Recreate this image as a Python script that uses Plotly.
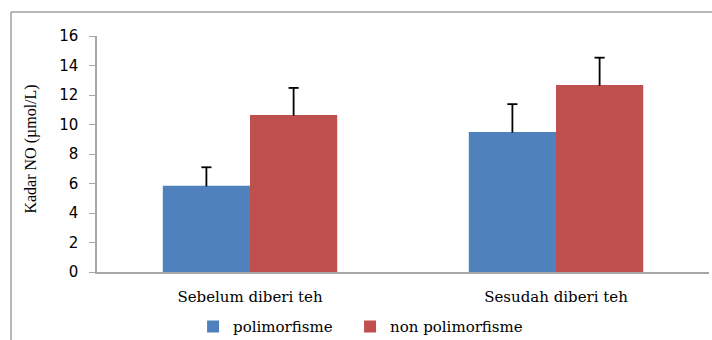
import plotly.graph_objects as go

categories = ["Sebelum diberi teh", "Sesudah diberi teh"]
polimorfisme = [5.85, 9.5]
polimorfisme_err = [1.25, 1.88]
non_polimorfisme = [10.65, 12.68]
non_polimorfisme_err = [1.83, 1.85]
y_ticks = [0, 2, 4, 6, 8, 10, 12, 14, 16]
y_title = "Kadar NO (µmol/L)"

xi = list(range(len(categories)))
BARGAP = 0.43
half = (1 - BARGAP) / 4  # centre offset of each bar in a group
cap = 0.0165             # half-width of error cap (x units)

fig = go.Figure()
fig.add_trace(go.Bar(
    name="polimorfisme", x=xi, y=polimorfisme, legend="legend",
    marker=dict(color="#4F81BD", line=dict(width=0)), hoverinfo="y",
))
fig.add_trace(go.Bar(
    name="non polimorfisme", x=xi, y=non_polimorfisme, legend="legend2",
    marker=dict(color="#C0504D", line=dict(width=0)), hoverinfo="y",
))

# error bars (upper only, cap at top) drawn as lines
ex, ey = [], []
for vals, errs, off in [(polimorfisme, polimorfisme_err, -half),
                        (non_polimorfisme, non_polimorfisme_err, half)]:
    for i, (v, e) in enumerate(zip(vals, errs)):
        x = xi[i] + off
        ex += [x, x, None, x - cap, x + cap, None]
        ey += [v - 0.05, v + e, None, v + e, v + e, None]
fig.add_trace(go.Scatter(x=ex, y=ey, mode="lines", line=dict(color="black", width=1.8),
                         showlegend=False, hoverinfo="skip"))

legend_font = dict(family="DejaVu Serif", size=15, color="black")
fig.update_layout(
    width=712, height=340,
    margin=dict(l=97, r=3, t=36, b=68, autoexpand=False),
    paper_bgcolor="white", plot_bgcolor="white",
    barmode="group", bargap=BARGAP, bargroupgap=0,
    showlegend=True,
    legend=dict(orientation="h", x=0.157, xanchor="left", y=-0.232, yanchor="middle",
                font=legend_font, itemwidth=30),
    legend2=dict(orientation="h", x=0.4135, xanchor="left", y=-0.232, yanchor="middle",
                 font=legend_font, itemwidth=30),
    xaxis=dict(range=[-0.5, 1.5], tickvals=xi, ticktext=categories,
               showline=True, linecolor="#a6a6a6", linewidth=1.5,
               ticks="", showgrid=False, zeroline=False, automargin=False, ticklabelstandoff=10,
               tickfont=dict(family="DejaVu Serif", size=15, color="black")),
    yaxis=dict(range=[0, 16], tickvals=y_ticks, showline=True, linecolor="#a6a6a6",
               linewidth=1.5, ticks="outside", ticklen=6, tickcolor="#a6a6a6",
               showgrid=False, zeroline=False, automargin=False, ticklabelstandoff=8,
               tickfont=dict(family="DejaVu Sans", size=15, color="black")),
    annotations=[
        dict(text=y_title, xref="paper", yref="paper", x=-0.107, y=0.521,
             xanchor="center", yanchor="middle", textangle=-90, showarrow=False,
             font=dict(family="Liberation Serif", size=16, color="black")),
    ],
    shapes=[
        dict(type="line", xref="paper", yref="paper", x0=-0.1405, x1=1.01, y0=1.1017, y1=1.1017,
             line=dict(color="#a0a0a0", width=1.5)),
        dict(type="line", xref="paper", yref="paper", x0=-0.1405, x1=-0.1405, y0=1.1017, y1=-0.3,
             line=dict(color="#a0a0a0", width=1.5)),
    ],
)

fig.write_html("out.html", config={"displayModeBar": False},
               post_script="document.body.style.margin='0px';document.body.style.overflow='hidden';")
